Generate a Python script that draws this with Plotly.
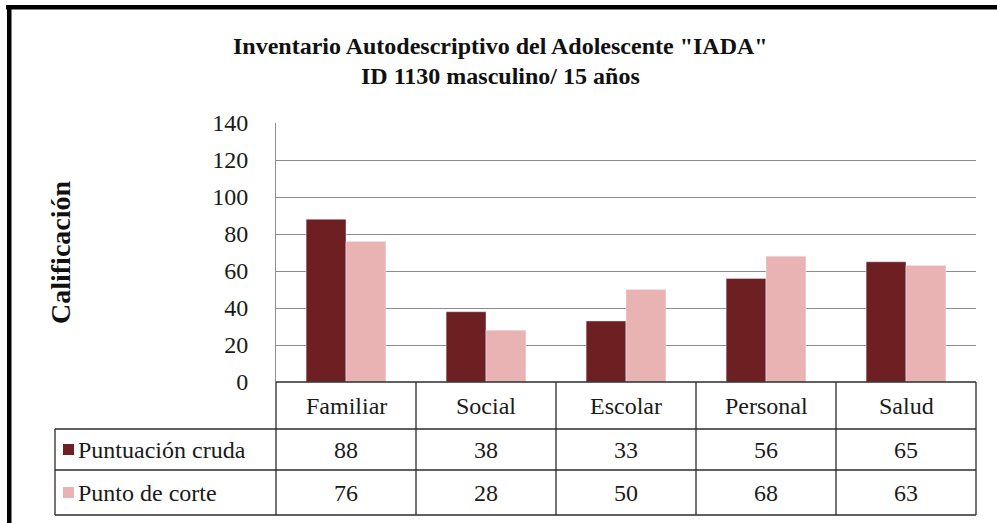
import plotly.graph_objects as go

# ---- data ----
categorias = ["Familiar", "Social", "Escolar", "Personal", "Salud"]
puntuacion_cruda = [88, 38, 33, 56, 65]
punto_de_corte = [76, 28, 50, 68, 63]
series_nombres = ["Puntuación cruda", "Punto de corte"]
y_ticks = [0, 20, 40, 60, 80, 100, 120, 140]

titulo_1 = 'Inventario Autodescriptivo del Adolescente "IADA"'
titulo_2 = "ID 1130 masculino/ 15 años"
eje_y = "Calificación"

# ---- style ----
W, H = 997, 523
COL_DARK = "#6E1F22"
COL_PINK = "#E9B3B3"
SERIF = "Times New Roman"
LINE = "#2b2b2b"
GRID = "#8c8c8c"


def px(x):
    return x / W


def py(y):
    return 1 - y / H


PLOT_L, PLOT_R, PLOT_T, PLOT_B = 276, 976, 123, 382
ROW1_B, ROW2_B, ROW3_B = 429, 470, 515
LEG_L = 55

fig = go.Figure()
fig.add_trace(go.Bar(x=categorias, y=puntuacion_cruda, name=series_nombres[0],
                     marker=dict(color=COL_DARK)))
fig.add_trace(go.Bar(x=categorias, y=punto_de_corte, name=series_nombres[1],
                     marker=dict(color=COL_PINK)))

shapes = []
annotations = []


def add_text(text, x, y, xref="paper", size=24, color="#1a1a1a", xanchor="center",
             weight="normal", angle=0):
    annotations.append(dict(x=x, y=y, xref=xref, yref="paper", text=text,
                            showarrow=False, xanchor=xanchor, yanchor="middle",
                            textangle=angle,
                            font=dict(family=SERIF, size=size, color=color,
                                      weight=weight)))


# frame border (top and left)
shapes.append(dict(type="rect", xref="paper", yref="paper",
                   x0=px(6), x1=px(997), y0=py(9.5), y1=py(5),
                   fillcolor="black", line=dict(width=0)))
shapes.append(dict(type="rect", xref="paper", yref="paper",
                   x0=px(7), x1=px(11.5), y0=py(523), y1=py(5),
                   fillcolor="black", line=dict(width=0)))


# data table grid
def hline(y, x0, x1):
    shapes.append(dict(type="line", xref="paper", yref="paper",
                       x0=px(x0), x1=px(x1), y0=py(y), y1=py(y),
                       line=dict(color=LINE, width=1.3)))


def vline(x, y0, y1):
    shapes.append(dict(type="line", xref="paper", yref="paper",
                       x0=px(x), x1=px(x), y0=py(y0), y1=py(y1),
                       line=dict(color=LINE, width=1.3)))


hline(PLOT_B, PLOT_L, PLOT_R)
hline(ROW1_B, LEG_L, PLOT_R)
hline(ROW2_B, LEG_L, PLOT_R)
hline(ROW3_B, LEG_L, PLOT_R)
vline(LEG_L, ROW1_B, ROW3_B)
vline(PLOT_L, PLOT_B, ROW3_B)
n = len(categorias)
for i in range(1, n + 1):
    vline(PLOT_L + (PLOT_R - PLOT_L) * i / n, PLOT_B, ROW3_B)

# table text: categories and values
for cat, v1, v2 in zip(categorias, puntuacion_cruda, punto_de_corte):
    add_text(cat, cat, py((PLOT_B + ROW1_B) / 2), xref="x")
    add_text(str(v1), cat, py((ROW1_B + ROW2_B) / 2), xref="x")
    add_text(str(v2), cat, py((ROW2_B + ROW3_B) / 2), xref="x")

# legend keys inside the table
for name, col, (top, bot) in zip(series_nombres, [COL_DARK, COL_PINK],
                                 [(ROW1_B, ROW2_B), (ROW2_B, ROW3_B)]):
    yc = (top + bot) / 2
    shapes.append(dict(type="rect", xref="paper", yref="paper",
                       x0=px(63), x1=px(74), y0=py(yc + 5.5), y1=py(yc - 5.5),
                       fillcolor=col, line=dict(width=0)))
    add_text(name, px(76), py(yc), xanchor="left")

# titles
add_text(titulo_1, px(500), py(46), color="#111", weight="bold")
add_text(titulo_2, px(500), py(76), color="#111", weight="bold")
add_text(eje_y, px(61), py(252), size=28, color="#111", weight="bold", angle=-90)

fig.update_layout(
    width=W, height=H,
    margin=dict(l=0, r=0, t=0, b=0, autoexpand=False),
    paper_bgcolor="white", plot_bgcolor="white",
    font=dict(family=SERIF),
    barmode="group", bargap=0.43, bargroupgap=0,
    showlegend=False,
    shapes=shapes, annotations=annotations,
    xaxis=dict(domain=[px(PLOT_L), px(PLOT_R)], showticklabels=False,
               showgrid=False, zeroline=False, ticks=""),
    yaxis=dict(domain=[py(PLOT_B), py(PLOT_T)], range=[0, 140],
               tickvals=y_ticks, ticks="", ticklabelstandoff=22,
               tickfont=dict(family=SERIF, size=24, color="#1a1a1a"),
               gridcolor=GRID, zeroline=False, showline=True, linecolor=GRID),
)

fig.write_html("out.html")
